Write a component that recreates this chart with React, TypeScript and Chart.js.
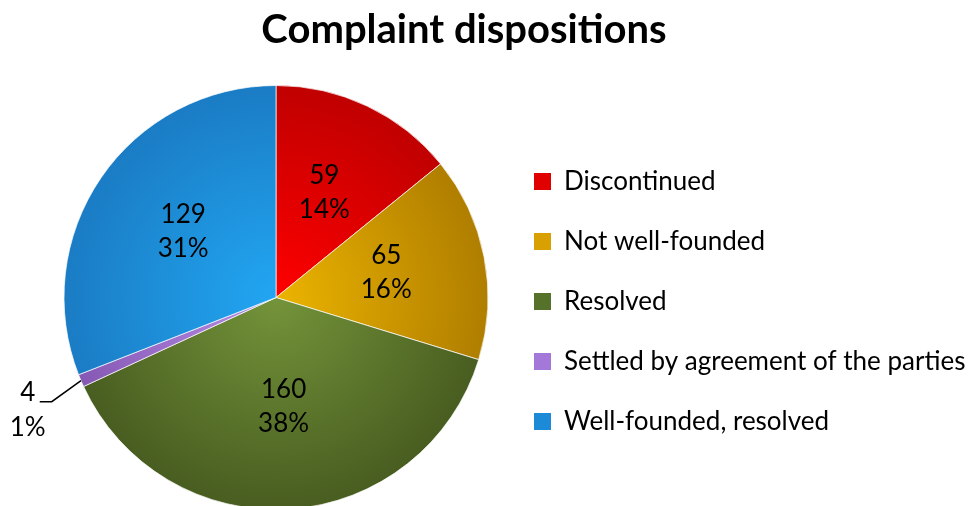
import React, { useEffect, useRef } from 'react';
import { Chart, registerables } from 'chart.js';

Chart.register(...registerables);

const chartTitle = 'Complaint dispositions';
const categories = [
  'Discontinued',
  'Not well-founded',
  'Resolved',
  'Settled by agreement of the parties',
  'Well-founded, resolved',
];
const counts = [59, 65, 160, 4, 129];
const innerColors = ['#ff0000', '#ecb400', '#74943a', '#b88ee8', '#22a6f2'];
const outerColors = ['#c00000', '#b07e00', '#485d20', '#8558b4', '#1a7cc4'];
const legendColors = ['#e00000', '#d8a000', '#56712a', '#a478d8', '#1d8ad8'];

const FONT = 'Lato, "Open Sans", sans-serif';
const TITLE_X = 464;
const TITLE_BASELINE = 43;

const titlePlugin = {
  id: 'customTitle',
  afterDraw(chart: any) {
    const ctx = chart.ctx;
    ctx.save();
    ctx.font = `bold 40px ${FONT}`;
    ctx.fillStyle = '#000';
    ctx.textAlign = 'center';
    ctx.textBaseline = 'alphabetic';
    ctx.fillText(chartTitle, TITLE_X, TITLE_BASELINE);
    ctx.restore();
  },
};

const labelPlugin = {
  id: 'sliceLabels',
  afterDatasetsDraw(chart: any) {
    const ctx = chart.ctx;
    const meta = chart.getDatasetMeta(0);
    const data = chart.data.datasets[0].data as number[];
    const total = data.reduce((a, b) => a + b, 0);
    ctx.save();
    ctx.font = `26px ${FONT}`;
    ctx.fillStyle = '#000';
    ctx.strokeStyle = '#000';
    ctx.textAlign = 'center';
    ctx.textBaseline = 'middle';
    meta.data.forEach((arc: any, i: number) => {
      const { x, y, startAngle, endAngle, outerRadius } = arc.getProps(
        ['x', 'y', 'startAngle', 'endAngle', 'outerRadius'],
        true
      );
      const v = data[i];
      const frac = v / total;
      const pct = Math.round(frac * 100) + '%';
      const mid = (startAngle + endAngle) / 2;
      const cos = Math.cos(mid);
      const sin = Math.sin(mid);
      if (frac >= 0.03) {
        const d = outerRadius * 0.53;
        const cx = x + d * cos;
        const cy = y + d * sin;
        ctx.fillText(String(v), cx, cy - 20);
        ctx.fillText(pct, cx, cy + 14);
      } else {
        const ex = x + outerRadius * cos;
        const ey = y + outerRadius * sin;
        const dir = cos < 0 ? -1 : 1;
        const lead = mid + dir * 0.22;
        const bx = ex + 36 * Math.cos(lead);
        const by = ey + 36 * Math.sin(lead);
        const lx = bx + dir * 12;
        ctx.lineWidth = 1.5;
        ctx.beginPath();
        ctx.moveTo(ex, ey);
        ctx.lineTo(bx, by);
        ctx.lineTo(lx, by);
        ctx.stroke();
        const tx = lx + dir * 12;
        ctx.fillText(String(v), tx, by - 9);
        ctx.fillText(pct, tx, by + 26);
      }
    });
    ctx.restore();
  },
};

export default function App() {
  const canvasRef = useRef<HTMLCanvasElement | null>(null);

  useEffect(() => {
    if (!canvasRef.current) return;
    const chart = new Chart(canvasRef.current, {
      type: 'pie',
      data: {
        labels: categories,
        datasets: [
          {
            data: counts,
            backgroundColor: (c: any) => {
              const i = c.dataIndex;
              const chartObj = c.chart;
              const area = chartObj.chartArea;
              if (!area || i === undefined) return legendColors[i ?? 0];
              const cx = (area.left + area.right) / 2;
              const cy = (area.top + area.bottom) / 2;
              const r = Math.min(area.right - area.left, area.bottom - area.top) / 2;
              const g = chartObj.ctx.createRadialGradient(cx, cy, 0, cx, cy, r);
              g.addColorStop(0, innerColors[i]);
              g.addColorStop(1, outerColors[i]);
              return g;
            },
            borderColor: 'rgba(255,255,255,0.7)',
            borderWidth: 1,
            hoverOffset: 0,
          },
        ],
      },
      options: {
        animation: false,
        responsive: true,
        maintainAspectRatio: false,
        layout: { padding: { left: 44, right: 0, top: 85, bottom: 10 } },
        plugins: {
          title: { display: false },
          tooltip: { enabled: false },
          legend: {
            position: 'right',
            align: 'center',
            maxWidth: 463,
            title: { display: true, text: '', font: { size: 16, lineHeight: 1 }, padding: 0 },
            labels: {
              color: '#000',
              font: { family: FONT, size: 26, lineHeight: 34 / 26 },
              usePointStyle: true,
              pointStyle: 'rect',
              boxWidth: 17,
              boxHeight: 17,
              padding: 26,
              generateLabels: () =>
                categories.map((t, i) => ({
                  text: [t],
                  fillStyle: legendColors[i],
                  strokeStyle: legendColors[i],
                  fontColor: '#000',
                  lineWidth: 0,
                  pointStyle: 'rect',
                  hidden: false,
                  index: i,
                  datasetIndex: 0,
                })),
            },
          },
        },
      },
      plugins: [labelPlugin, titlePlugin],
    } as any);
    return () => chart.destroy();
  }, []);

  return (
    <div
      style={{
        position: 'fixed',
        left: 0,
        top: 0,
        width: 971,
        height: 506,
        overflow: 'hidden',
        background: '#fff',
      }}
    >
      <div style={{ position: 'relative', width: 971, height: 520 }}>
        <canvas ref={canvasRef} />
      </div>
    </div>
  );
}
